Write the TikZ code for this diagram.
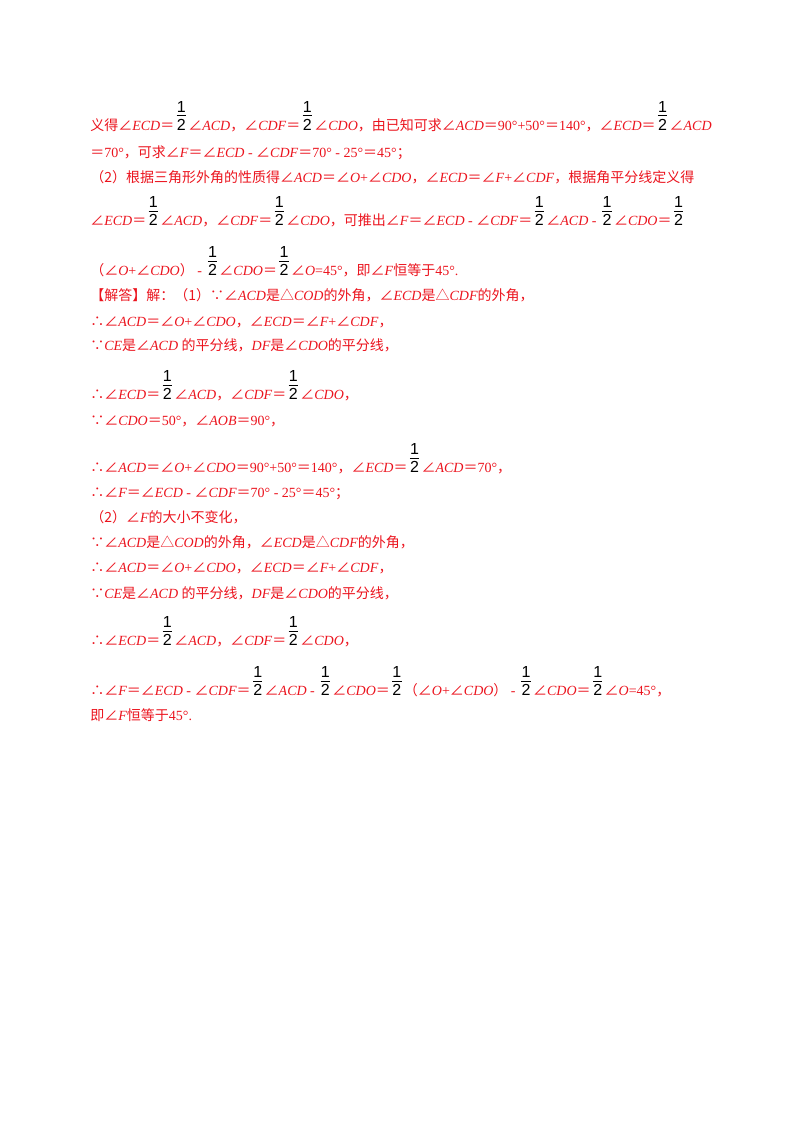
\documentclass[tikz,border=0pt]{standalone}
\usepackage{fontspec}
\setmainfont{Liberation Serif}
\newfontfamily\cjk{Noto Sans CJK SC}
\definecolor{ans}{RGB}{235,20,30}
\newcommand\zh[1]{{\cjk #1}}
\newcommand\ag[1]{{\cjk ∠}\textit{#1}}
\newcommand\hf{\,\textcolor{black}{\shortstack{\fontspec{Liberation Sans}\fontsize{12pt}{12pt}\selectfont 1\\[-1pt]\rule{7pt}{0.5pt}\\[-1pt]\fontspec{Liberation Sans}\fontsize{12pt}{12pt}\selectfont 2}}\,}
\begin{document}
\begin{tikzpicture}[x=0.75pt,y=-0.75pt,
  ln/.style={anchor=base west,inner sep=0pt,text=ans,font=\fontsize{10.5pt}{12pt}\selectfont}]
\useasboundingbox (0,0) rectangle (800,1132);
\node[ln] (l1) at (90,130) {\zh{义得}\ag{ECD}\zh{＝}\hf\ag{ACD}\zh{，}\ag{CDF}\zh{＝}\hf\ag{CDO}\zh{，由已知可求}\ag{ACD}\zh{＝}90°+50°\zh{＝}140°\zh{，}\ag{ECD}\zh{＝}\hf\ag{ACD}};
\node[ln] (l2) at (90,157) {\zh{＝}70°\zh{，可求}\ag{F}\zh{＝}\ag{ECD} - \ag{CDF}\zh{＝}70° - 25°\zh{＝}45°\zh{；}};
\node[ln] (l3) at (90,182) {\zh{（2）根据三角形外角的性质得}\ag{ACD}\zh{＝}\ag{O}+\ag{CDO}\zh{，}\ag{ECD}\zh{＝}\ag{F}+\ag{CDF}\zh{，根据角平分线定义得}};
\node[ln] (l4) at (90,225) {\ag{ECD}\zh{＝}\hf\ag{ACD}\zh{，}\ag{CDF}\zh{＝}\hf\ag{CDO}\zh{，可推出}\ag{F}\zh{＝}\ag{ECD} - \ag{CDF}\zh{＝}\hf\ag{ACD} - \hf\ag{CDO}\zh{＝}\hf};
\node[ln] (l5) at (90,275) {\zh{（}\ag{O}+\ag{CDO}\zh{）} - \hf\ag{CDO}\zh{＝}\hf\ag{O}=45°\zh{，即}\ag{F}\zh{恒等于}45°.};
\node[ln] (l6) at (90,300) {\zh{【解答】解：（1）∵}\ag{ACD}\zh{是△}\textit{COD}\zh{的外角，}\ag{ECD}\zh{是△}\textit{CDF}\zh{的外角，}};
\node[ln] (l7) at (90,326) {\zh{∴}\ag{ACD}\zh{＝}\ag{O}+\ag{CDO}\zh{，}\ag{ECD}\zh{＝}\ag{F}+\ag{CDF}\zh{，}};
\node[ln] (l8) at (90,350) {\zh{∵}\textit{CE}\zh{是}\ag{ACD} \zh{的平分线，}\textit{DF}\zh{是}\ag{CDO}\zh{的平分线，}};
\node[ln] (l9) at (90,399) {\zh{∴}\ag{ECD}\zh{＝}\hf\ag{ACD}\zh{，}\ag{CDF}\zh{＝}\hf\ag{CDO}\zh{，}};
\node[ln] (l10) at (90,425) {\zh{∵}\ag{CDO}\zh{＝}50°\zh{，}\ag{AOB}\zh{＝}90°\zh{，}};
\node[ln] (l11) at (90,472) {\zh{∴}\ag{ACD}\zh{＝}\ag{O}+\ag{CDO}\zh{＝}90°+50°\zh{＝}140°\zh{，}\ag{ECD}\zh{＝}\hf\ag{ACD}\zh{＝}70°\zh{，}};
\node[ln] (l12) at (90,497) {\zh{∴}\ag{F}\zh{＝}\ag{ECD} - \ag{CDF}\zh{＝}70° - 25°\zh{＝}45°\zh{；}};
\node[ln] (l13) at (90,522) {\zh{（2）}\ag{F}\zh{的大小不变化，}};
\node[ln] (l14) at (90,547) {\zh{∵}\ag{ACD}\zh{是△}\textit{COD}\zh{的外角，}\ag{ECD}\zh{是△}\textit{CDF}\zh{的外角，}};
\node[ln] (l15) at (90,572) {\zh{∴}\ag{ACD}\zh{＝}\ag{O}+\ag{CDO}\zh{，}\ag{ECD}\zh{＝}\ag{F}+\ag{CDF}\zh{，}};
\node[ln] (l16) at (90,598) {\zh{∵}\textit{CE}\zh{是}\ag{ACD} \zh{的平分线，}\textit{DF}\zh{是}\ag{CDO}\zh{的平分线，}};
\node[ln] (l17) at (90,645) {\zh{∴}\ag{ECD}\zh{＝}\hf\ag{ACD}\zh{，}\ag{CDF}\zh{＝}\hf\ag{CDO}\zh{，}};
\node[ln] (l18) at (90,695) {\zh{∴}\ag{F}\zh{＝}\ag{ECD} - \ag{CDF}\zh{＝}\hf\ag{ACD} - \hf\ag{CDO}\zh{＝}\hf\zh{（}\ag{O}+\ag{CDO}\zh{）} - \hf\ag{CDO}\zh{＝}\hf\ag{O}=45°\zh{，}};
\node[ln] (l19) at (90,720) {\zh{即}\ag{F}\zh{恒等于}45°.};
\end{tikzpicture}
\end{document}
